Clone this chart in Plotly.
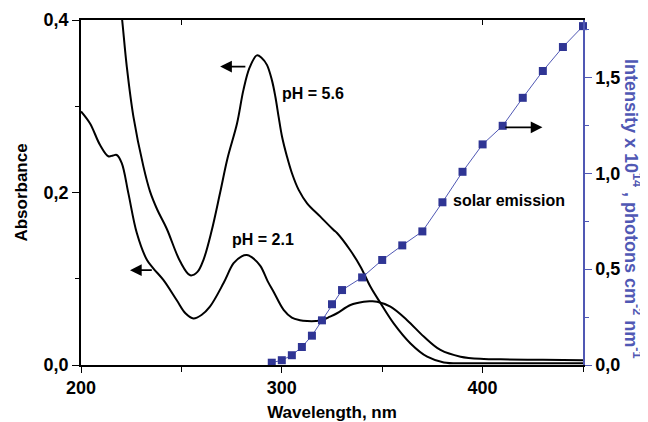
import plotly.graph_objects as go

# ---- data ----
wl_ph56 = [219.5, 220.5, 222.8, 226.1, 231.1, 234.4, 238, 242.7, 249.4, 254.4, 258, 261, 265, 269.3, 273,
           277.7, 280.9, 284, 287.6, 290, 292.6, 295.1, 296.8, 298.4, 300.1, 302.6, 305.1, 308.4, 312.6,
           319.2, 325.8, 327.5, 334.1, 339.2, 344.1, 349.1, 355.8, 364.1, 372.4, 380.7, 390, 400, 420, 450]
abs_ph56 = [0.42, 0.40, 0.346, 0.288, 0.23, 0.201, 0.18, 0.158, 0.12, 0.104, 0.108, 0.122, 0.155, 0.20, 0.24,
            0.28, 0.319, 0.345, 0.359, 0.356, 0.348, 0.330, 0.311, 0.288, 0.265, 0.2415, 0.222, 0.203, 0.1875,
            0.172, 0.1565, 0.153, 0.133, 0.114, 0.091, 0.072, 0.048, 0.025, 0.0096, 0.003, 0.002, 0.002, 0.002, 0.002]

wl_ph21 = [200, 204.5, 209.5, 213.6, 216, 217.8, 220.3, 223.6, 227.8, 232.8, 236, 241, 247.7, 252, 256, 260,
           264.3, 271, 276, 280, 282.6, 285, 289.3, 293, 295.9, 300.9, 305, 309, 312.6, 317, 320, 324, 327.5,
           334.2, 340.8, 344, 347.5, 354.1, 362.4, 370.7, 379, 389, 400.6, 409, 430, 450]
abs_ph21 = [0.294, 0.28, 0.255, 0.242, 0.243, 0.2435, 0.234, 0.199, 0.153, 0.122, 0.112, 0.0986, 0.075, 0.060,
            0.054, 0.058, 0.068, 0.095, 0.118, 0.126, 0.1275, 0.125, 0.115, 0.097, 0.085, 0.064, 0.055, 0.052,
            0.051, 0.051, 0.052, 0.056, 0.060, 0.0696, 0.0734, 0.0738, 0.0734, 0.0676, 0.052, 0.033, 0.0174,
            0.0096, 0.007, 0.0066, 0.006, 0.0055]

wl_solar = [295, 300, 305, 310, 315, 320, 325, 330, 340, 350, 360, 370, 380, 390, 400, 410, 420, 430, 440, 450]
solar_int = [0.012, 0.025, 0.051, 0.094, 0.153, 0.233, 0.317, 0.391, 0.457, 0.548, 0.624, 0.697, 0.849,
             1.008, 1.151, 1.248, 1.394, 1.534, 1.659, 1.768]

x_ticks = [200, 300, 400]
x_ticktext = ["200", "300", "400"]
y1_ticks = [0.0, 0.2, 0.4]
y1_ticktext = ["0,0", "0,2", "0,4"]
y2_ticks = [0.0, 0.5, 1.0, 1.5]
y2_ticktext = ["0,0", "0,5", "1,0", "1,5"]

BLUE = "#2f3594"
BLUE_L = "#5058b4"
FONT = "Liberation Sans"

fig = go.Figure()
fig.add_trace(go.Scatter(x=wl_ph56, y=abs_ph56, mode="lines", line=dict(color="black", width=2, shape="spline"),
                         showlegend=False))
fig.add_trace(go.Scatter(x=wl_ph21, y=abs_ph21, mode="lines", line=dict(color="black", width=2, shape="spline"),
                         showlegend=False))
fig.add_trace(go.Scatter(x=wl_solar, y=solar_int, yaxis="y2", mode="lines+markers",
                         line=dict(color=BLUE_L, width=1),
                         marker=dict(symbol="square", size=8, color=BLUE, line=dict(width=0)),
                         showlegend=False, cliponaxis=False))
# invisible trace for top axis
fig.add_trace(go.Scatter(x=[200, 450], y=[0, 0], xaxis="x2", mode="lines", line=dict(width=0),
                         hoverinfo="skip", showlegend=False))

tickfont = dict(family=FONT, size=18, color="black", weight="bold")
titlefont = dict(family=FONT, size=17, color="black", weight="bold")

# the page body adds an 8px margin, so the figure is sized to fit the window
fig.update_layout(
    width=640, height=414,
    margin=dict(l=73, r=65, t=12, b=57),
    paper_bgcolor="white", plot_bgcolor="white",
    xaxis=dict(range=[200, 450], tickvals=x_ticks, ticktext=x_ticktext, ticks="outside", ticklen=6,
               tickwidth=1.2, tickcolor="black", showline=True, linecolor="black", linewidth=1.5,
               showgrid=False, zeroline=False, tickfont=tickfont, automargin=False,
               minor=dict(tickmode="array", tickvals=[250, 350, 450], ticks="outside", ticklen=5,
                          tickcolor="black"),
               title=dict(text="Wavelength, nm", font=titlefont, standoff=14)),
    xaxis2=dict(range=[200, 450], overlaying="x", side="top", tickvals=[250, 400], ticks="inside",
                ticklen=5, tickcolor="black", showticklabels=False, showline=True, linecolor="black",
                linewidth=1.5, showgrid=False, zeroline=False, automargin=False),
    yaxis=dict(range=[0, 0.4], tickvals=y1_ticks, ticktext=y1_ticktext, ticks="outside", ticklen=7,
               tickwidth=1.2, tickcolor="black", showline=True, linecolor="black", linewidth=1.5,
               showgrid=False, zeroline=False, tickfont=tickfont, automargin=False,
               minor=dict(tickmode="array", tickvals=[0.1, 0.3], ticks="outside", ticklen=4, tickcolor="black"),
               title=dict(text="Absorbance", font=titlefont, standoff=12)),
    yaxis2=dict(range=[0, 1.8], overlaying="y", side="right", tickvals=y2_ticks, ticktext=y2_ticktext,
                ticks="outside", ticklen=7, tickwidth=1.2, tickcolor=BLUE_L, showline=True,
                linecolor=BLUE_L, linewidth=1.5, showgrid=False, zeroline=False, tickfont=tickfont,
                automargin=False,
                minor=dict(tickmode="array", tickvals=[0.25, 0.75, 1.25, 1.75], ticks="outside", ticklen=4,
                           tickcolor=BLUE_L)),
)

txtfont = dict(family=FONT, size=16, color="black", weight="bold")
annotations = [
    # arrows
    dict(x=269.3, y=0.346, ax=282.6, ay=0.346, xref="x", yref="y", axref="x", ayref="y", showarrow=True,
         arrowhead=2, arrowsize=1.3, arrowwidth=1.8, arrowcolor="black", text=""),
    dict(x=224.4, y=0.110, ax=236.0, ay=0.110, xref="x", yref="y", axref="x", ayref="y", showarrow=True,
         arrowhead=2, arrowsize=1.3, arrowwidth=1.8, arrowcolor="black", text=""),
    dict(x=429.8, y=1.24, ax=410.6, ay=1.24, xref="x", yref="y2", axref="x", ayref="y2", showarrow=True,
         arrowhead=2, arrowsize=1.3, arrowwidth=1.8, arrowcolor="black", text=""),
    # labels
    dict(x=315.7, y=0.3148, xref="x", yref="y", text="pH = 5.6", showarrow=False, font=txtfont),
    dict(x=290.8, y=0.145, xref="x", yref="y", text="pH = 2.1", showarrow=False, font=txtfont),
    dict(x=384.5, y=0.857, xref="x", yref="y2", text="solar emission", showarrow=False, xanchor="left",
         font=txtfont),
    # right axis title
    dict(x=1, y=0.455, xref="paper", yref="paper", xanchor="center", yanchor="middle", xshift=50,
         textangle=90, showarrow=False,
         text="Intensity x 10<sup>14</sup> , photons cm<sup>-2</sup> nm<sup>-1</sup>",
         font=dict(family=FONT, size=18, color=BLUE_L, weight="bold")),
]
fig.update_layout(annotations=annotations)

fig.write_html("out.html")
